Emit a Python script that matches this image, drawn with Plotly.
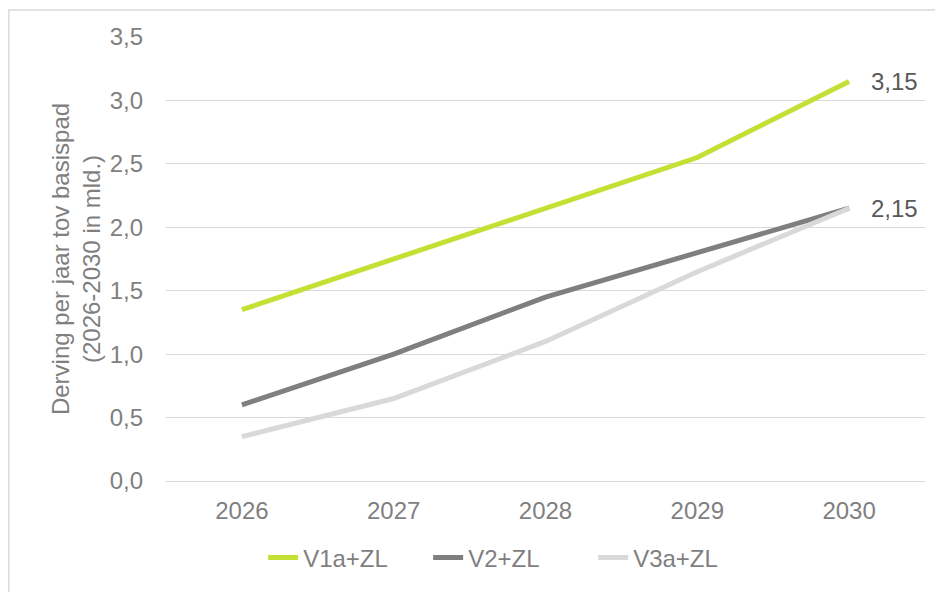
import plotly.graph_objects as go

years = ["2026", "2027", "2028", "2029", "2030"]
v1a_zl = [1.35, 1.75, 2.15, 2.55, 3.15]
v2_zl = [0.60, 1.00, 1.45, 1.80, 2.15]
v3a_zl = [0.35, 0.65, 1.10, 1.65, 2.15]
end_labels = {"V1a+ZL": "3,15", "V2+ZL": "2,15"}
y_ticks = [0, 0.5, 1, 1.5, 2, 2.5, 3, 3.5]

txt = "#7f7f7f"
lbl = "#595959"
font = "Liberation Sans, Arial, sans-serif"

series = [
    ("V1a+ZL", v1a_zl, "#c5df35"),
    ("V2+ZL", v2_zl, "#7f7f7f"),
    ("V3a+ZL", v3a_zl, "#d9d9d9"),
]

fig = go.Figure()
for name, vals, col in series:
    fig.add_trace(go.Scatter(
        x=years, y=vals, name=name, mode="lines",
        line=dict(color=col, width=5),
    ))
    # value label next to the last point (category index, "2030" would be read as a number)
    if name in end_labels:
        fig.add_annotation(x=len(years) - 1, y=vals[-1], text=end_labels[name],
                           showarrow=False, xanchor="left", xshift=20,
                           font=dict(size=24, color=lbl, family=font))

fig.update_layout(
    width=935, height=584,
    margin=dict(l=158, r=18, t=29, b=111),
    paper_bgcolor="white", plot_bgcolor="white",
    separators=",.",
    font=dict(family=font, size=24, color=txt),
    showlegend=True,
    legend=dict(orientation="h", x=0.128, xanchor="left", y=-0.173, yanchor="middle",
                font=dict(size=24, color=txt), itemwidth=30,
                entrywidth=120, entrywidthmode="pixels"),
    xaxis=dict(type="category", range=[-0.5, 4.5], showgrid=False, showline=False,
               ticks="", ticklabelstandoff=13, tickfont=dict(size=24, color=txt)),
    yaxis=dict(range=[0, 3.5], tickvals=y_ticks, tickformat=".1f",
               showgrid=True, gridcolor="#d9d9d9", gridwidth=1.3,
               zeroline=True, zerolinecolor="#d9d9d9", zerolinewidth=1.3,
               showline=False, ticks="", ticklabelstandoff=22,
               tickfont=dict(size=24, color=txt),
               title=dict(text="Derving per jaar tov basispad<br>(2026-2030 in mld.)",
                          font=dict(size=24, color=txt), standoff=2)),
)

# light frame around the chart, as in the original
fig.add_shape(type="rect", xref="paper", yref="paper",
              x0=-0.207, x1=1.2, y0=-0.5, y1=1.0608,
              line=dict(color="#d9d9d9", width=1.5), layer="below")

fig.write_html("out.html")
